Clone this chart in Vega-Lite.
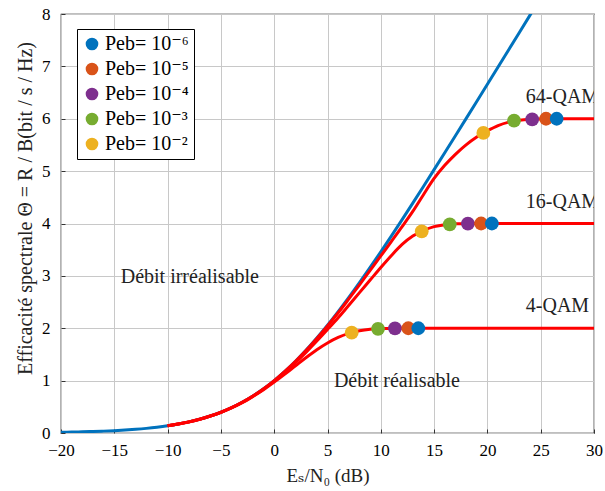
{
  "$schema": "https://vega.github.io/schema/vega-lite/v6.json",
  "width": 533,
  "height": 419,
  "autosize": {"type": "none"},
  "padding": {"left": 61, "top": 14, "right": 11, "bottom": 58},
  "background": "white",
  "config": {
    "view": {"stroke": "black", "strokeWidth": 1.2},
    "font": "Liberation Serif, Times New Roman, DejaVu Serif, serif",
    "legend": {"labelFont": "Liberation Serif, Times New Roman, DejaVu Serif, serif"},
    "text": {"font": "Liberation Serif, Times New Roman, DejaVu Serif, serif"},
    "axis": {
      "labelFont": "Liberation Serif, Times New Roman, DejaVu Serif, serif",
      "titleFont": "Liberation Serif, Times New Roman, DejaVu Serif, serif",
      "labelFontSize": 17,
      "titleFontSize": 18,
      "labelColor": "black",
      "titleColor": "#222",
      "titleFontWeight": "normal",
      "gridColor": "#c8c8c8",
      "gridWidth": 1,
      "domain": false,
      "tickColor": "#333",
      "tickSize": -4,
      "labelOverlap": false,
      "labelFlush": false
    }
  },
  "datasets": {
    "shannon": [
      {"x": -20, "y": 0.0144}, {"x": -19, "y": 0.0181}, {"x": -18, "y": 0.0227}, {"x": -17, "y": 0.0285},
      {"x": -16, "y": 0.0358}, {"x": -15, "y": 0.0449}, {"x": -14, "y": 0.0563}, {"x": -13, "y": 0.0706},
      {"x": -12, "y": 0.0883}, {"x": -11, "y": 0.1103}, {"x": -10, "y": 0.1375}, {"x": -9, "y": 0.1712},
      {"x": -8, "y": 0.2126}, {"x": -7, "y": 0.2632}, {"x": -6, "y": 0.325}, {"x": -5, "y": 0.3959},
      {"x": -4, "y": 0.4834}, {"x": -3, "y": 0.586}, {"x": -2, "y": 0.7057}, {"x": -1, "y": 0.8434},
      {"x": 0, "y": 1.0}, {"x": 1, "y": 1.1756}, {"x": 2, "y": 1.3701}, {"x": 3, "y": 1.5827},
      {"x": 4, "y": 1.8123}, {"x": 5, "y": 2.0574}, {"x": 6, "y": 2.3165}, {"x": 7, "y": 2.5878},
      {"x": 8, "y": 2.8698}, {"x": 9, "y": 3.1608}, {"x": 10, "y": 3.4594}, {"x": 11, "y": 3.7643},
      {"x": 12, "y": 4.0746}, {"x": 13, "y": 4.389}, {"x": 14, "y": 4.707}, {"x": 15, "y": 5.0278},
      {"x": 16, "y": 5.3508}, {"x": 17, "y": 5.6758}, {"x": 18, "y": 6.0022}, {"x": 19, "y": 6.3297},
      {"x": 20, "y": 6.6582}, {"x": 21, "y": 6.9875}, {"x": 22, "y": 7.3173}, {"x": 23, "y": 7.6476},
      {"x": 24, "y": 7.9783}, {"x": 24.5, "y": 8.1438}
    ],
    "qam": [
      {"m": "4-QAM", "x": -10, "y": 0.137}, {"m": "4-QAM", "x": -9, "y": 0.17}, {"m": "4-QAM", "x": -8, "y": 0.211},
      {"m": "4-QAM", "x": -7, "y": 0.261}, {"m": "4-QAM", "x": -6, "y": 0.322}, {"m": "4-QAM", "x": -5, "y": 0.394},
      {"m": "4-QAM", "x": -4, "y": 0.478}, {"m": "4-QAM", "x": -3, "y": 0.577}, {"m": "4-QAM", "x": -2, "y": 0.697},
      {"m": "4-QAM", "x": -1, "y": 0.827}, {"m": "4-QAM", "x": 0, "y": 0.971}, {"m": "4-QAM", "x": 1, "y": 1.125},
      {"m": "4-QAM", "x": 2, "y": 1.284}, {"m": "4-QAM", "x": 3, "y": 1.442}, {"m": "4-QAM", "x": 4, "y": 1.59},
      {"m": "4-QAM", "x": 5, "y": 1.719}, {"m": "4-QAM", "x": 6, "y": 1.824}, {"m": "4-QAM", "x": 7, "y": 1.901},
      {"m": "4-QAM", "x": 8, "y": 1.951}, {"m": "4-QAM", "x": 9, "y": 1.98}, {"m": "4-QAM", "x": 10, "y": 1.993},
      {"m": "4-QAM", "x": 11, "y": 1.998}, {"m": "4-QAM", "x": 12, "y": 2.0}, {"m": "4-QAM", "x": 30, "y": 2.0},
      {"m": "16-QAM", "x": -10, "y": 0.137}, {"m": "16-QAM", "x": -9, "y": 0.171}, {"m": "16-QAM", "x": -8, "y": 0.212},
      {"m": "16-QAM", "x": -7, "y": 0.263}, {"m": "16-QAM", "x": -6, "y": 0.324}, {"m": "16-QAM", "x": -5, "y": 0.395},
      {"m": "16-QAM", "x": -4, "y": 0.482}, {"m": "16-QAM", "x": -3, "y": 0.584}, {"m": "16-QAM", "x": -2, "y": 0.703},
      {"m": "16-QAM", "x": -1, "y": 0.839}, {"m": "16-QAM", "x": 0, "y": 0.99}, {"m": "16-QAM", "x": 1, "y": 1.16},
      {"m": "16-QAM", "x": 2, "y": 1.345}, {"m": "16-QAM", "x": 3, "y": 1.545}, {"m": "16-QAM", "x": 4, "y": 1.755},
      {"m": "16-QAM", "x": 5, "y": 1.975}, {"m": "16-QAM", "x": 6, "y": 2.2}, {"m": "16-QAM", "x": 7, "y": 2.44},
      {"m": "16-QAM", "x": 8, "y": 2.68}, {"m": "16-QAM", "x": 9, "y": 2.92}, {"m": "16-QAM", "x": 10, "y": 3.16},
      {"m": "16-QAM", "x": 11, "y": 3.39}, {"m": "16-QAM", "x": 12, "y": 3.6}, {"m": "16-QAM", "x": 13, "y": 3.76},
      {"m": "16-QAM", "x": 14, "y": 3.865}, {"m": "16-QAM", "x": 15, "y": 3.94}, {"m": "16-QAM", "x": 16, "y": 3.978},
      {"m": "16-QAM", "x": 17, "y": 3.993}, {"m": "16-QAM", "x": 18, "y": 3.998}, {"m": "16-QAM", "x": 19, "y": 4.0},
      {"m": "16-QAM", "x": 30, "y": 4.0},
      {"m": "64-QAM", "x": -10, "y": 0.1375}, {"m": "64-QAM", "x": -9, "y": 0.171}, {"m": "64-QAM", "x": -8, "y": 0.2125},
      {"m": "64-QAM", "x": -7, "y": 0.263}, {"m": "64-QAM", "x": -6, "y": 0.325}, {"m": "64-QAM", "x": -5, "y": 0.396},
      {"m": "64-QAM", "x": -4, "y": 0.483}, {"m": "64-QAM", "x": -3, "y": 0.586}, {"m": "64-QAM", "x": -2, "y": 0.705},
      {"m": "64-QAM", "x": -1, "y": 0.843}, {"m": "64-QAM", "x": 0, "y": 0.999}, {"m": "64-QAM", "x": 1, "y": 1.175},
      {"m": "64-QAM", "x": 2, "y": 1.368}, {"m": "64-QAM", "x": 3, "y": 1.578}, {"m": "64-QAM", "x": 4, "y": 1.805},
      {"m": "64-QAM", "x": 5, "y": 2.045}, {"m": "64-QAM", "x": 6, "y": 2.295}, {"m": "64-QAM", "x": 7, "y": 2.56},
      {"m": "64-QAM", "x": 8, "y": 2.83}, {"m": "64-QAM", "x": 9, "y": 3.105}, {"m": "64-QAM", "x": 10, "y": 3.38},
      {"m": "64-QAM", "x": 11, "y": 3.66}, {"m": "64-QAM", "x": 12, "y": 3.94}, {"m": "64-QAM", "x": 13, "y": 4.23},
      {"m": "64-QAM", "x": 14, "y": 4.55}, {"m": "64-QAM", "x": 15, "y": 4.86}, {"m": "64-QAM", "x": 16, "y": 5.11},
      {"m": "64-QAM", "x": 17, "y": 5.32}, {"m": "64-QAM", "x": 18, "y": 5.5}, {"m": "64-QAM", "x": 19, "y": 5.65},
      {"m": "64-QAM", "x": 20, "y": 5.77}, {"m": "64-QAM", "x": 21, "y": 5.87}, {"m": "64-QAM", "x": 22, "y": 5.935},
      {"m": "64-QAM", "x": 23, "y": 5.972}, {"m": "64-QAM", "x": 24, "y": 5.99}, {"m": "64-QAM", "x": 25, "y": 5.997},
      {"m": "64-QAM", "x": 26, "y": 6.0}, {"m": "64-QAM", "x": 30, "y": 6.0}
    ],
    "pts": [
      {"peb": "Peb= 10⁻²", "o": 1, "x": 7.27, "y": 1.915},
      {"peb": "Peb= 10⁻³", "o": 2, "x": 9.74, "y": 1.99},
      {"peb": "Peb= 10⁻⁴", "o": 3, "x": 11.33, "y": 1.998},
      {"peb": "Peb= 10⁻⁵", "o": 4, "x": 12.58, "y": 2.0},
      {"peb": "Peb= 10⁻⁶", "o": 5, "x": 13.52, "y": 2.0},
      {"peb": "Peb= 10⁻²", "o": 1, "x": 13.84, "y": 3.85},
      {"peb": "Peb= 10⁻³", "o": 2, "x": 16.47, "y": 3.985},
      {"peb": "Peb= 10⁻⁴", "o": 3, "x": 18.17, "y": 3.998},
      {"peb": "Peb= 10⁻⁵", "o": 4, "x": 19.41, "y": 4.0},
      {"peb": "Peb= 10⁻⁶", "o": 5, "x": 20.42, "y": 4.0},
      {"peb": "Peb= 10⁻²", "o": 1, "x": 19.62, "y": 5.73},
      {"peb": "Peb= 10⁻³", "o": 2, "x": 22.5, "y": 5.965},
      {"peb": "Peb= 10⁻⁴", "o": 3, "x": 24.2, "y": 5.99},
      {"peb": "Peb= 10⁻⁵", "o": 4, "x": 25.5, "y": 6.0},
      {"peb": "Peb= 10⁻⁶", "o": 5, "x": 26.5, "y": 6.0}
    ],
    "labels": [
      {"t": "64-QAM", "x": 23.6, "y": 6.42},
      {"t": "16-QAM", "x": 23.6, "y": 4.42},
      {"t": "4-QAM", "x": 23.6, "y": 2.42},
      {"t": "Débit irréalisable", "x": -14.4, "y": 2.98},
      {"t": "Débit réalisable", "x": 5.6, "y": 0.99}
    ]
  },
  "layer": [
    {
      "data": {"name": "shannon"},
      "mark": {"type": "line", "color": "#0072BD", "strokeWidth": 3, "clip": true, "interpolate": "monotone"},
      "encoding": {
        "x": {"field": "x", "type": "quantitative", "scale": {"domain": [-20, 30], "nice": false},
          "axis": {"values": [-20, -15, -10, -5, 0, 5, 10, 15, 20, 25, 30], "title": "Eₛ/N₀ (dB)", "labelPadding": 13, "titlePadding": 8, "titleFontSize": 19}},
        "y": {"field": "y", "type": "quantitative", "scale": {"domain": [0, 8], "nice": false},
          "axis": {"values": [0, 1, 2, 3, 4, 5, 6, 7, 8], "title": "Efficacité spectrale  Θ  =  R / B(bit / s / Hz)", "labelPadding": 15, "titlePadding": 6, "titleFontSize": 20, "titleY": 194}}
      }
    },
    {
      "data": {"name": "qam"},
      "mark": {"type": "line", "color": "#FF0000", "strokeWidth": 3, "clip": true, "interpolate": "monotone"},
      "encoding": {
        "x": {"field": "x", "type": "quantitative"},
        "y": {"field": "y", "type": "quantitative"},
        "detail": {"field": "m"}
      }
    },
    {
      "data": {"name": "pts"},
      "mark": {"type": "circle", "opacity": 1, "size": 190},
      "encoding": {
        "x": {"field": "x", "type": "quantitative"},
        "y": {"field": "y", "type": "quantitative"},
        "order": {"field": "o", "type": "quantitative"},
        "color": {
          "field": "peb", "type": "nominal",
          "scale": {
            "domain": ["Peb= 10⁻⁶", "Peb= 10⁻⁵", "Peb= 10⁻⁴", "Peb= 10⁻³", "Peb= 10⁻²"],
            "range": ["#0072BD", "#D95319", "#7E2F8E", "#77AC30", "#EDB120"]
          },
          "legend": {
            "title": null, "orient": "none", "legendX": 16, "legendY": 15,
            "strokeColor": "black", "fillColor": "white", "padding": 5,
            "symbolType": "circle", "symbolSize": 160, "symbolOpacity": 1, "symbolStrokeWidth": 0,
            "labelFont": "Liberation Serif, Times New Roman, DejaVu Serif, serif", "labelFontSize": 20, "labelColor": "black",
            "rowPadding": 5, "labelOffset": 3
          }
        }
      }
    },
    {
      "data": {"name": "labels"},
      "mark": {"type": "text", "align": "left", "baseline": "middle", "fontSize": 20, "font": "Liberation Serif, Times New Roman, DejaVu Serif, serif", "color": "#222", "clip": true},
      "encoding": {
        "x": {"field": "x", "type": "quantitative"},
        "y": {"field": "y", "type": "quantitative"},
        "text": {"field": "t"}
      }
    }
  ]
}
